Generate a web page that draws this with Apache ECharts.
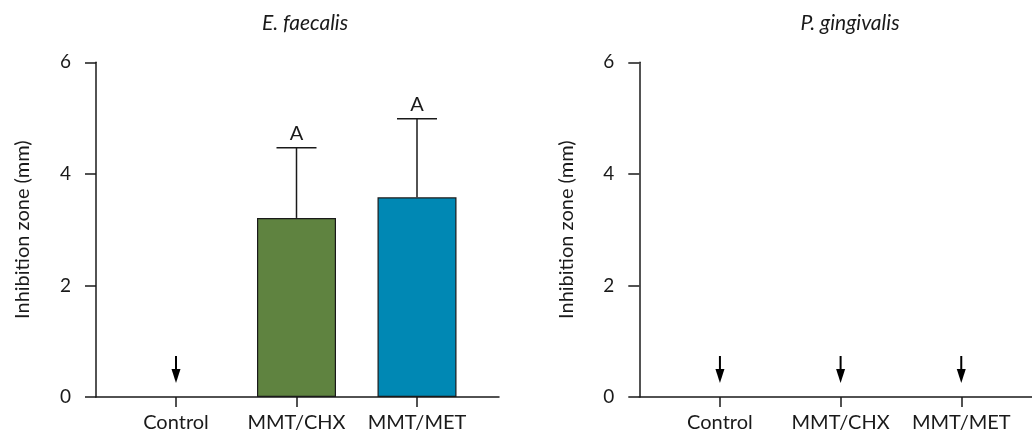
<!DOCTYPE html>
<html>
<head>
<meta charset="utf-8">
<script src="https://cdn.jsdelivr.net/npm/echarts@6/dist/echarts.min.js"></script>
<style>html,body{margin:0;padding:0;background:#fff}#c{width:1032px;height:439px}</style>
</head>
<body>
<div id="c"></div>
<script>
const categories = ['Control', 'MMT/CHX', 'MMT/MET'];
const yTicks = [0, 2, 4, 6];
const panelTitles = ['E. faecalis', 'P. gingivalis'];
const yName = 'Inhibition zone (mm)';
// E. faecalis
const efMean = [0, 3.21, 3.58];
const efSD = [0, 1.26, 1.41];
const efLetters = ['', 'A', 'A'];
const efNoZone = [1, 0, 0];
// P. gingivalis
const pgMean = [0, 0, 0];
const pgSD = [0, 0, 0];
const pgLetters = ['', '', ''];
const pgNoZone = [1, 1, 1];
const barColors = ['#5f8340', '#5f8340', '#0088b4'];

const FONT = 'Lato';
const INK = '#1a1a1a';
const chart = echarts.init(document.getElementById('c'), null, {renderer: 'canvas'});

const TOP = 62.3, H = 334.7;
const grids = [
  {left: 96, top: TOP, width: 403, height: H},
  {left: 115.75, top: TOP, width: 361.5, height: H},
  {left: 639.3, top: TOP, width: 392.7, height: H},
  {left: 659.6, top: TOP, width: 362, height: H}
];

function axisX(gi) {
  return {gridIndex: gi, type: 'value', min: 0, max: 1,
    axisLine: {show: true, lineStyle: {color: INK, width: 1.5}},
    axisTick: {show: false}, axisLabel: {show: false}, splitLine: {show: false}};
}
function catX(gi) {
  return {gridIndex: gi, type: 'category', data: categories,
    axisLine: {show: false},
    axisTick: {show: true, alignWithLabel: true, interval: 0, length: 10, lineStyle: {color: INK, width: 1.5}},
    axisLabel: {fontFamily: FONT, fontSize: 20, color: INK, margin: 16, interval: 0, hideOverlap: false}};
}
function valY(gi, visible) {
  return {gridIndex: gi, type: 'value', min: 0, max: 6, interval: 2,
    show: visible,
    name: visible ? yName : '', nameLocation: 'middle', nameGap: 63,
    nameTextStyle: {fontFamily: FONT, fontSize: 20, color: INK},
    axisLine: {show: visible, lineStyle: {color: INK, width: 1.5}},
    axisTick: {show: visible, length: 11, lineStyle: {color: INK, width: 1.5}},
    axisLabel: {show: visible, fontFamily: FONT, fontSize: 19, color: INK, margin: 25,
      customValues: yTicks},
    splitLine: {show: false}};
}

function errSeries(xi, mean, sd, letters) {
  return {
    type: 'custom', xAxisIndex: xi, yAxisIndex: xi, z: 5,
    data: mean.map((m, i) => [i, m, m + sd[i]]).filter(d => d[2] > d[1]),
    renderItem: function (params, api) {
      const b = api.coord([api.value(0), api.value(1)]);
      const t = api.coord([api.value(0), api.value(2)]);
      const st = {stroke: INK, lineWidth: 1.5};
      const children = [
        {type: 'line', shape: {x1: b[0], y1: b[1], x2: t[0], y2: t[1]}, style: st},
        {type: 'line', shape: {x1: t[0] - 20, y1: t[1], x2: t[0] + 20, y2: t[1]}, style: st}
      ];
      const lab = letters[api.value(0)];
      if (lab) children.push({type: 'text', x: t[0], y: t[1] - 4,
        style: {text: lab, fill: INK, font: '20px ' + FONT, textAlign: 'center', textVerticalAlign: 'bottom'}});
      return {type: 'group', children: children};
    }
  };
}
function arrowSeries(xi, mean, flags) {
  return {
    type: 'custom', xAxisIndex: xi, yAxisIndex: xi, z: 5,
    data: mean.map((m, i) => [i, m]).filter((d, i) => flags[i]),
    renderItem: function (params, api) {
      const p = api.coord([api.value(0), api.value(1)]);
      const x = p[0], y = p[1];
      return {type: 'group', children: [
        {type: 'line', shape: {x1: x, y1: y - 41, x2: x, y2: y - 24}, style: {stroke: '#000', lineWidth: 2}},
        {type: 'polygon', shape: {points: [[x - 4.5, y - 28], [x + 4.5, y - 28], [x, y - 14]]}, style: {fill: '#000'}}
      ]};
    }
  };
}
function barData(mean) {
  return mean.map((v, i) => ({value: v,
    itemStyle: {color: barColors[i], borderColor: INK, borderWidth: v > 0 ? 1.2 : 0}}));
}

const titleStyle = {fontFamily: FONT, fontStyle: 'italic', fontWeight: 'normal', fontSize: 21, color: INK};
const option = {
  animation: false,
  backgroundColor: '#fff',
  title: [
    {text: panelTitles[0], left: 300, top: 8, textAlign: 'center', textStyle: titleStyle},
    {text: panelTitles[1], left: 845, top: 8, textAlign: 'center', textStyle: titleStyle}
  ],
  grid: grids,
  xAxis: [axisX(0), catX(1), axisX(2), catX(3)],
  yAxis: [valY(0, true), valY(1, false), valY(2, true), valY(3, false)],
  series: [
    {type: 'bar', xAxisIndex: 1, yAxisIndex: 1, barWidth: 79, data: barData(efMean)},
    errSeries(1, efMean, efSD, efLetters),
    arrowSeries(1, efMean, efNoZone),
    {type: 'bar', xAxisIndex: 3, yAxisIndex: 3, barWidth: 79, data: barData(pgMean)},
    errSeries(3, pgMean, pgSD, pgLetters),
    arrowSeries(3, pgMean, pgNoZone)
  ]
};
chart.setOption(option);
</script>
</body>
</html>
